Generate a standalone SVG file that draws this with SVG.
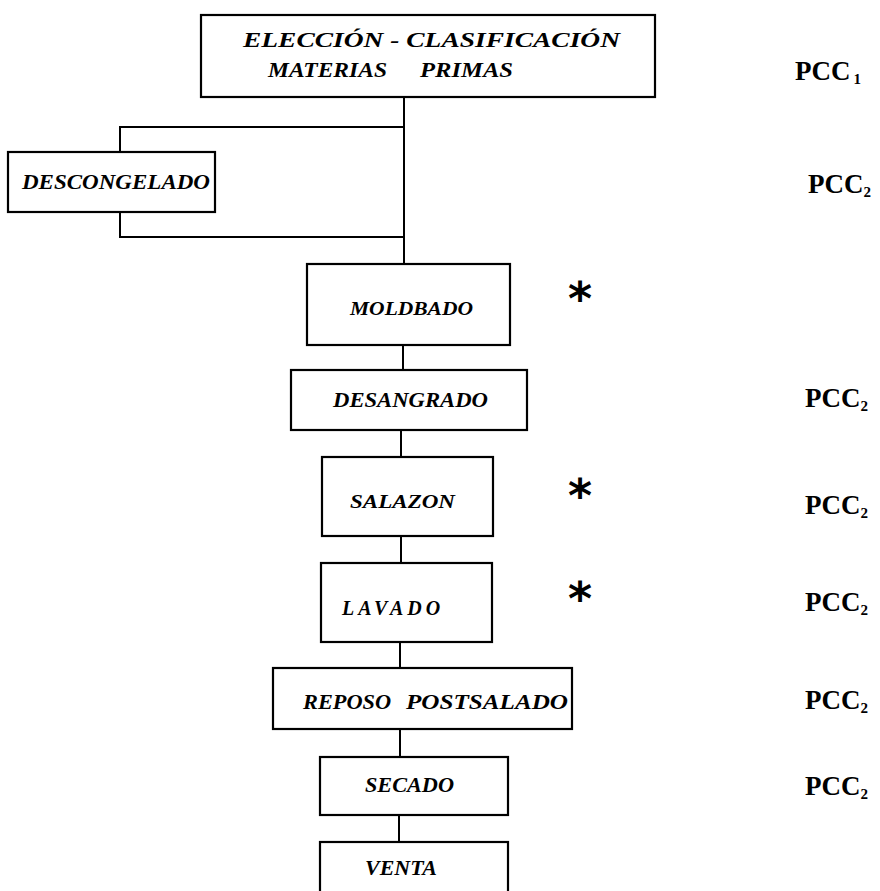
<svg xmlns="http://www.w3.org/2000/svg" width="880" height="891" viewBox="0 0 880 891">
  <style>
    .box { fill: none; stroke: #000; stroke-width: 2.2; }
    .wire { fill: none; stroke: #000; stroke-width: 2; }
    .lbl { font-family: "Liberation Serif", "Times New Roman", serif; font-weight: bold; font-style: italic; fill: #000; }
    .pcc { font-family: "Liberation Serif", "Times New Roman", serif; font-weight: bold; fill: #000; font-size: 27px; }
    .sub { font-size: 15px; }
    .star { font-family: "DejaVu Sans", sans-serif; font-weight: bold; fill: #000; font-size: 46px; text-anchor: middle; }
  </style>
  <rect width="880" height="891" fill="#fff"/>

  <!-- connectors -->
  <g id="connectors">
    <line class="wire" x1="404" y1="97" x2="404" y2="264"/>
    <polyline class="wire" points="404,127 120,127 120,152"/>
    <polyline class="wire" points="120,212 120,237 404,237"/>
    <line class="wire" x1="403" y1="345" x2="403" y2="370"/>
    <line class="wire" x1="401" y1="430" x2="401" y2="457"/>
    <line class="wire" x1="401" y1="536" x2="401" y2="563"/>
    <line class="wire" x1="400" y1="642" x2="400" y2="668"/>
    <line class="wire" x1="400" y1="729" x2="400" y2="757"/>
    <line class="wire" x1="399" y1="815" x2="399" y2="842"/>
  </g>

  <g id="eleccion">
    <rect class="box" x="201" y="15" width="454" height="82"/>
    <text class="lbl" x="243" y="47" font-size="22" textLength="377" lengthAdjust="spacingAndGlyphs">ELECCIÓN  -  CLASIFICACIÓN</text>
    <text class="lbl" x="268" y="77" font-size="22" textLength="119" lengthAdjust="spacingAndGlyphs">MATERIAS</text>
    <text class="lbl" x="420" y="77" font-size="22" textLength="93" lengthAdjust="spacingAndGlyphs">PRIMAS</text>
  </g>

  <g id="descongelado">
    <rect class="box" x="8" y="152" width="207" height="60"/>
    <text class="lbl" x="22" y="189" font-size="22" textLength="188" lengthAdjust="spacingAndGlyphs">DESCONGELADO</text>
  </g>

  <g id="moldbado">
    <rect class="box" x="307" y="264" width="203" height="81"/>
    <text class="lbl" x="350" y="315" font-size="19" textLength="123" lengthAdjust="spacingAndGlyphs">MOLDBADO</text>
  </g>

  <g id="desangrado">
    <rect class="box" x="291" y="370" width="236" height="60"/>
    <text class="lbl" x="333" y="407" font-size="20" textLength="155" lengthAdjust="spacingAndGlyphs">DESANGRADO</text>
  </g>

  <g id="salazon">
    <rect class="box" x="322" y="457" width="171" height="79"/>
    <text class="lbl" x="350" y="508" font-size="19" textLength="105" lengthAdjust="spacingAndGlyphs">SALAZON</text>
  </g>

  <g id="lavado">
    <rect class="box" x="321" y="563" width="171" height="79"/>
    <text class="lbl" x="342" y="615" font-size="20" letter-spacing="4">LAVADO</text>
  </g>

  <g id="reposo">
    <rect class="box" x="273" y="668" width="299" height="61"/>
    <text class="lbl" x="303" y="709" font-size="21" textLength="88" lengthAdjust="spacingAndGlyphs">REPOSO</text>
    <text class="lbl" x="406" y="709" font-size="21" textLength="162" lengthAdjust="spacingAndGlyphs">POSTSALADO</text>
  </g>

  <g id="secado">
    <rect class="box" x="320" y="757" width="188" height="58"/>
    <text class="lbl" x="365" y="792" font-size="21" textLength="89" lengthAdjust="spacingAndGlyphs">SECADO</text>
  </g>

  <g id="venta">
    <rect class="box" x="320" y="842" width="188" height="60"/>
    <text class="lbl" x="365" y="875" font-size="21" textLength="72" lengthAdjust="spacingAndGlyphs">VENTA</text>
  </g>

  <!-- critical step marks -->
  <g id="marks">
    <text class="star" x="580" y="315">*</text>
    <text class="star" x="580" y="512">*</text>
    <text class="star" x="580" y="615">*</text>
  </g>

  <!-- control point labels -->
  <g id="pcc-labels">
    <text class="pcc" x="795" y="80">PCC<tspan class="sub" dx="3" dy="4">1</tspan></text>
    <text class="pcc" x="808" y="193">PCC<tspan class="sub" dy="4">2</tspan></text>
    <text class="pcc" x="805" y="407">PCC<tspan class="sub" dy="4">2</tspan></text>
    <text class="pcc" x="805" y="514">PCC<tspan class="sub" dy="4">2</tspan></text>
    <text class="pcc" x="805" y="611">PCC<tspan class="sub" dy="4">2</tspan></text>
    <text class="pcc" x="805" y="709">PCC<tspan class="sub" dy="4">2</tspan></text>
    <text class="pcc" x="805" y="795">PCC<tspan class="sub" dy="4">2</tspan></text>
  </g>
</svg>
